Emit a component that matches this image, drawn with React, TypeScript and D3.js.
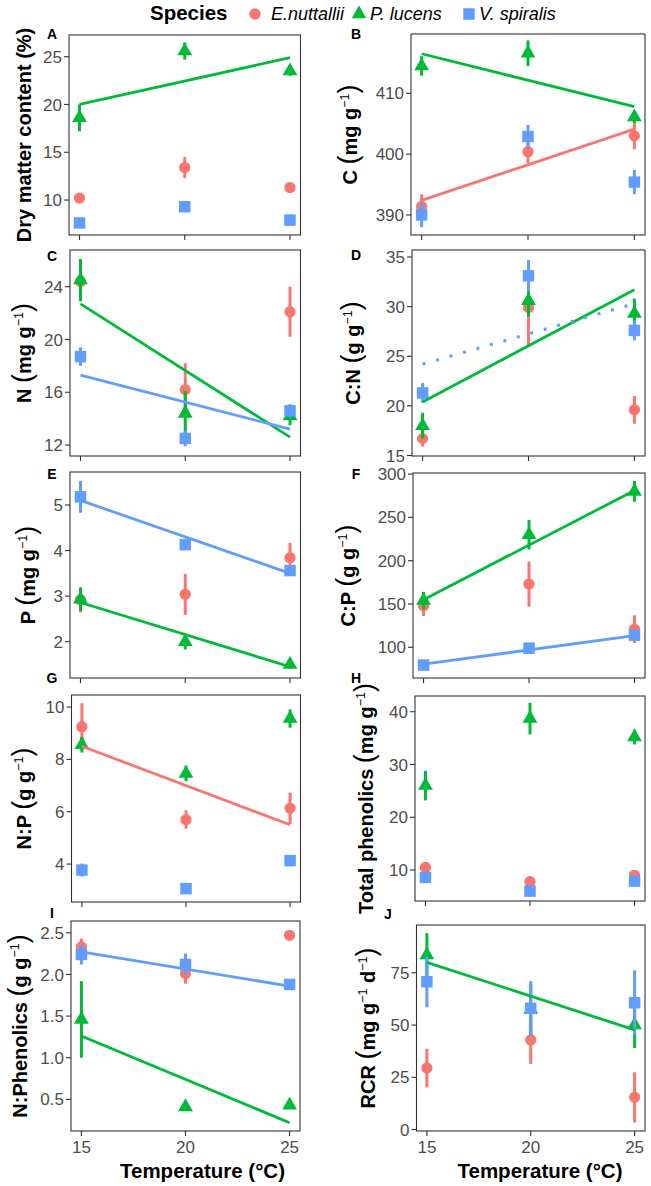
import React from "react";
import * as d3 from "d3";

// ---------- shared data ----------
const TEMPS = [15, 20, 25];
const SPECIES = ["E.nuttallii", "P. lucens", "V. spiralis"];
const SPECIES_COLORS = ["#F8766D", "#00BA38", "#619CFF"];
const X_TICKS = [15, 20, 25];
const X_LIMITS = [14.5, 25.5];
const X_TITLE = "Temperature (°C)";

// ---------- A: dry matter content (%) ----------
const dmcMean = [[10.2, 13.4, 11.3], [18.6, 25.6, 23.5], [7.6, 9.3, 7.9]];
const dmcErr = [[0.3, 1.1, 0.3], [1.4, 0.9, 0.5], [0.3, 0.3, 0.3]];
const dmcFit = [{ species: 1, ends: [20.0, 24.9], dotted: false }];
const dmcTicks = [10, 15, 20, 25];
const dmcLimits = [6.34, 27.27];

// ---------- B: C (mg g-1) ----------
const cMean = [[391.4, 400.4, 403.0], [414.5, 416.6, 406.1], [390.0, 402.9, 395.4]];
const cErr = [[2.0, 1.9, 2.2], [1.6, 2.1, 1.0], [2.0, 1.9, 2.0]];
const cFit = [
  { species: 1, ends: [416.5, 407.8], dotted: false },
  { species: 0, ends: [392.4, 404.1], dotted: false },
];
const cTicks = [390, 400, 410];
const cLimits = [386.7, 419.75];

// ---------- C: N (mg g-1) ----------
const nMean = [[24.4, 16.2, 22.1], [24.5, 14.4, 14.2], [18.7, 12.5, 14.6]];
const nErr = [[1.0, 2.0, 1.9], [1.6, 1.7, 0.7], [0.7, 0.6, 0.5]];
const nFit = [
  { species: 1, ends: [22.7, 12.6], dotted: false },
  { species: 2, ends: [17.3, 13.2], dotted: false },
];
const nTicks = [12, 16, 20, 24];
const nLimits = [11.17, 26.78];

// ---------- D: C:N (g g-1) ----------
const cnMean = [[16.7, 29.9, 19.6], [18.0, 30.6, 29.3], [21.3, 33.1, 27.6]];
const cnErr = [[0.8, 3.8, 1.4], [1.3, 1.6, 1.5], [1.0, 1.6, 1.0]];
const cnFit = [
  { species: 1, ends: [20.4, 31.7], dotted: false },
  { species: 2, ends: [24.2, 30.3], dotted: true },
];
const cnTicks = [15, 20, 25, 30, 35];
const cnLimits = [14.95, 35.7];

// ---------- E: P (mg g-1) ----------
const pMean = [[2.92, 3.04, 3.84], [2.93, 2.0, 1.5], [5.18, 4.13, 3.56]];
const pErr = [[0.28, 0.45, 0.33], [0.25, 0.17, 0.05], [0.35, 0.12, 0.07]];
const pFit = [
  { species: 2, ends: [5.1, 3.5], dotted: false },
  { species: 1, ends: [2.86, 1.45], dotted: false },
];
const pTicks = [2, 3, 4, 5];
const pLimits = [1.203, 5.724];

// ---------- F: C:P (g g-1) ----------
const cpMean = [[148, 173, 121], [154, 230, 280], [79.5, 99, 114]];
const cpErr = [[12, 26, 16], [10, 17, 12], [3, 3, 5]];
const cpFit = [
  { species: 1, ends: [155, 281], dotted: false },
  { species: 2, ends: [80.5, 113.5], dotted: false },
];
const cpTicks = [100, 150, 200, 250, 300];
const cpLimits = [64.6, 301.2];

// ---------- G: N:P (g g-1) ----------
const npMean = [[9.25, 5.7, 6.13], [8.56, 7.46, 9.56], [3.77, 3.06, 4.13]];
const npErr = [[0.9, 0.35, 0.6], [0.3, 0.3, 0.35], [0.25, 0.1, 0.1]];
const npFit = [{ species: 0, ends: [8.5, 5.5], dotted: false }];
const npTicks = [4, 6, 8, 10];
const npLimits = [2.55, 10.46];

// ---------- H: total phenolics (mg g-1) ----------
const phMean = [[10.5, 7.8, 9.0], [26.0, 38.7, 35.2], [8.6, 6.0, 7.9]];
const phErr = [[0.5, 0.5, 0.5], [2.8, 3.0, 1.4], [0.5, 0.5, 0.5]];
const phFit = [];
const phTicks = [10, 20, 30, 40];
const phLimits = [4.13, 42.98];

// ---------- I: N:Phenolics (g g-1) ----------
const nphMean = [[2.33, 2.01, 2.47], [1.46, 0.41, 0.43], [2.24, 2.12, 1.88]];
const nphErr = [[0.1, 0.12, 0.05], [0.46, 0.02, 0.02], [0.12, 0.13, 0.04]];
const nphFit = [
  { species: 2, ends: [2.27, 1.86], dotted: false },
  { species: 1, ends: [1.26, 0.22], dotted: false },
];
const nphTicks = [0.5, 1.0, 1.5, 2.0, 2.5];
const nphLimits = [0.12, 2.642];

// ---------- J: RCR (mg g-1 d-1) ----------
const rcrMean = [[29.4, 42.9, 15.4], [83.5, 57.5, 50.0], [70.7, 58.0, 60.7]];
const rcrErr = [[9.2, 11.5, 12], [10.5, 12, 11], [12.2, 13, 15.5]];
const rcrFit = [{ species: 1, ends: [80.0, 47.7], dotted: false }];
const rcrTicks = [0, 25, 50, 75];
const rcrLimits = [-0.7, 97.9];

// axis titles: [text, kind] — b bold, p paren, s superscript
const T_A = [["Dry matter content (%)", "b"]];
const T_B = [["C ", "b"], ["(", "p"], ["mg g", "b"], ["\u22121", "s"], [")", "p"]];
const T_C = [["N ", "b"], ["(", "p"], ["mg g", "b"], ["\u22121", "s"], [")", "p"]];
const T_D = [["C:N ", "b"], ["(", "p"], ["g g", "b"], ["\u22121", "s"], [")", "p"]];
const T_E = [["P ", "b"], ["(", "p"], ["mg g", "b"], ["\u22121", "s"], [")", "p"]];
const T_F = [["C:P ", "b"], ["(", "p"], ["g g", "b"], ["\u22121", "s"], [")", "p"]];
const T_G = [["N:P ", "b"], ["(", "p"], ["g g", "b"], ["\u22121", "s"], [")", "p"]];
const T_H = [["Total phenolics ", "b"], ["(", "p"], ["mg g", "b"], ["\u22121", "s"], [")", "p"]];
const T_I = [["N:Phenolics ", "b"], ["(", "p"], ["g g", "b"], ["\u22121", "s"], [")", "p"]];
const T_J = [["RCR ", "b"], ["(", "p"], ["mg g", "b"], ["\u22121", "s"], [" d", "b"], ["\u22121", "s"], [")", "p"]];

const PANELS = [
  { id: "A", mean: dmcMean, err: dmcErr, fit: dmcFit, ticks: dmcTicks, limits: dmcLimits, title: T_A },
  { id: "B", mean: cMean, err: cErr, fit: cFit, ticks: cTicks, limits: cLimits, title: T_B },
  { id: "C", mean: nMean, err: nErr, fit: nFit, ticks: nTicks, limits: nLimits, title: T_C },
  { id: "D", mean: cnMean, err: cnErr, fit: cnFit, ticks: cnTicks, limits: cnLimits, title: T_D },
  { id: "E", mean: pMean, err: pErr, fit: pFit, ticks: pTicks, limits: pLimits, title: T_E },
  { id: "F", mean: cpMean, err: cpErr, fit: cpFit, ticks: cpTicks, limits: cpLimits, title: T_F },
  { id: "G", mean: npMean, err: npErr, fit: npFit, ticks: npTicks, limits: npLimits, title: T_G },
  { id: "H", mean: phMean, err: phErr, fit: phFit, ticks: phTicks, limits: phLimits, title: T_H },
  { id: "I", mean: nphMean, err: nphErr, fit: nphFit, ticks: nphTicks, limits: nphLimits, title: T_I, fmt: ".1f", bottom: true },
  { id: "J", mean: rcrMean, err: rcrErr, fit: rcrFit, ticks: rcrTicks, limits: rcrLimits, title: T_J, bottom: true },
];

// ---------- layout (positions only) ----------
const LAYOUT = [
  { left: 69, right: 300.5, top: 35, bottom: 235, lx: 52, ly: 34, tx: 31 },
  { left: 411, right: 645, top: 34, bottom: 235, lx: 356, ly: 34, tx: 357 },
  { left: 70, right: 300.5, top: 250, bottom: 456, lx: 52, ly: 256, tx: 31 },
  { left: 412, right: 645, top: 250, bottom: 456, lx: 356, ly: 255, tx: 360 },
  { left: 70, right: 300.5, top: 472, bottom: 678, lx: 52, ly: 474, tx: 35 },
  { left: 413, right: 645, top: 473, bottom: 678, lx: 356, ly: 474, tx: 355 },
  { left: 71.5, right: 300.5, top: 695, bottom: 902, lx: 52, ly: 678, tx: 31 },
  { left: 415, right: 645, top: 696, bottom: 901, lx: 356, ly: 677.5, tx: 373 },
  { left: 71, right: 300, top: 921, bottom: 1131, lx: 52, ly: 913, tx: 27 },
  { left: 416.5, right: 645, top: 925, bottom: 1131, lx: 388, ly: 913.5, tx: 375 },
];
const X_TITLE_POS = [202.5, 540];

const FONT = "'Liberation Sans', Arial, Helvetica, sans-serif";
const TICK_COLOR = "#4D4D4D";
const AXIS_COLOR = "#333333";
const SYMBOLS = [d3.symbolCircle, d3.symbolTriangle, d3.symbolSquare];
const SYMBOL_SIZES = [100, 95, 132];

function symbolPath(i: number) {
  return d3.symbol().type(SYMBOLS[i]).size(SYMBOL_SIZES[i])() as string;
}

function AxisTitle({ parts, x, y }: { parts: any[]; x: number; y: number }) {
  let shift = 0;
  return (
    <text
      transform={`translate(${x},${y}) rotate(-90)`}
      textAnchor="middle"
      fontFamily={FONT}
      fontSize={20}
      fontWeight="bold"
      fill="#000"
    >
      {parts.map(([t, k]: [string, string], i: number) => {
        let dy = 0;
        if (k === "s") {
          dy = -8 - shift;
          shift = -8;
        } else {
          dy = -shift;
          shift = 0;
        }
        if (k === "p")
          return (
            <tspan key={i} dy={dy} fontSize={27} fontWeight="normal">
              {t}
            </tspan>
          );
        if (k === "s")
          return (
            <tspan key={i} dy={dy} fontSize={12.5} fontWeight="normal">
              {t}
            </tspan>
          );
        return (
          <tspan key={i} dy={dy}>
            {t}
          </tspan>
        );
      })}
    </text>
  );
}

function Panel({ p, L }: { p: any; L: any }) {
  const x = d3.scaleLinear().domain(X_LIMITS).range([L.left, L.right]);
  const y = d3.scaleLinear().domain(p.limits).range([L.bottom, L.top]);
  const fmt = p.fmt ? d3.format(p.fmt) : d3.format("d");
  const line = d3
    .line<[number, number]>()
    .x((d) => x(d[0]))
    .y((d) => y(d[1]));
  return (
    <g>
      {p.ticks.map((t: number) => (
        <g key={"yt" + t}>
          <line x1={L.left - 5} x2={L.left} y1={y(t)} y2={y(t)} stroke={AXIS_COLOR} strokeWidth={1.1} />
          <text
            x={L.left - 7}
            y={y(t)}
            dy="0.36em"
            textAnchor="end"
            fontFamily={FONT}
            fontSize={17}
            fill={TICK_COLOR}
          >
            {fmt(t)}
          </text>
        </g>
      ))}
      {X_TICKS.map((t) => (
        <g key={"xt" + t}>
          <line x1={x(t)} x2={x(t)} y1={L.bottom} y2={L.bottom + 5} stroke={AXIS_COLOR} strokeWidth={1.1} />
          {p.bottom && (
            <text
              x={x(t)}
              y={L.bottom + 16}
              dy="0.36em"
              textAnchor="middle"
              fontFamily={FONT}
              fontSize={17}
              fill={TICK_COLOR}
            >
              {t}
            </text>
          )}
        </g>
      ))}
      {SPECIES.map((sp, si) => (
        <g key={sp}>
          {TEMPS.map((t, ti) => (
            <line
              key={"e" + ti}
              x1={x(t)}
              x2={x(t)}
              y1={y(p.mean[si][ti] - p.err[si][ti])}
              y2={y(p.mean[si][ti] + p.err[si][ti])}
              stroke={SPECIES_COLORS[si]}
              strokeWidth={3}
            />
          ))}
          {TEMPS.map((t, ti) => (
            <path
              key={"p" + ti}
              d={symbolPath(si)}
              transform={`translate(${x(t)},${y(p.mean[si][ti])})`}
              fill={SPECIES_COLORS[si]}
            />
          ))}
        </g>
      ))}
      {p.fit.map((f: any, fi: number) => (
        <path
          key={"f" + fi}
          d={line([
            [TEMPS[0], f.ends[0]],
            [TEMPS[2], f.ends[1]],
          ]) as string}
          fill="none"
          stroke={SPECIES_COLORS[f.species]}
          strokeWidth={f.dotted ? 3 : 2.8}
          strokeDasharray={f.dotted ? "3 11" : undefined}
        />
      ))}
      <rect
        x={L.left}
        y={L.top}
        width={L.right - L.left}
        height={L.bottom - L.top}
        fill="none"
        stroke={AXIS_COLOR}
        strokeWidth={1.1}
      />
      <text x={L.lx} y={L.ly} dy="0.36em" textAnchor="middle" fontFamily={FONT} fontSize={14} fontWeight="bold">
        {p.id}
      </text>
      <AxisTitle parts={p.title} x={L.tx} y={(L.top + L.bottom) / 2} />
    </g>
  );
}

function Legend() {
  const items = [
    { sx: 255, tx: 271 },
    { sx: 359, tx: 370 },
    { sx: 469, tx: 479 },
  ];
  return (
    <g>
      <text x={150} y={20} fontFamily={FONT} fontSize={20.5} fontWeight="bold">
        Species
      </text>
      {SPECIES.map((s, i) => (
        <g key={s}>
          <path d={symbolPath(i)} transform={`translate(${items[i].sx},14)`} fill={SPECIES_COLORS[i]} />
          <text x={items[i].tx} y={20} fontFamily={FONT} fontSize={18} fontStyle="italic">
            {s}
          </text>
        </g>
      ))}
    </g>
  );
}

export default function App() {
  return (
    <svg
      width={651}
      height={1186}
      style={{ position: "absolute", left: 0, top: 0, background: "#fff" }}
    >
      <rect x={0} y={0} width={651} height={1186} fill="#fff" />
      <Legend />
      {PANELS.map((p, i) => (
        <Panel key={p.id} p={p} L={LAYOUT[i]} />
      ))}
      {X_TITLE_POS.map((cx, i) => (
        <text
          key={"xt" + i}
          x={cx}
          y={1178}
          textAnchor="middle"
          fontFamily={FONT}
          fontSize={20.5}
          fontWeight="bold"
        >
          {X_TITLE}
        </text>
      ))}
    </svg>
  );
}
